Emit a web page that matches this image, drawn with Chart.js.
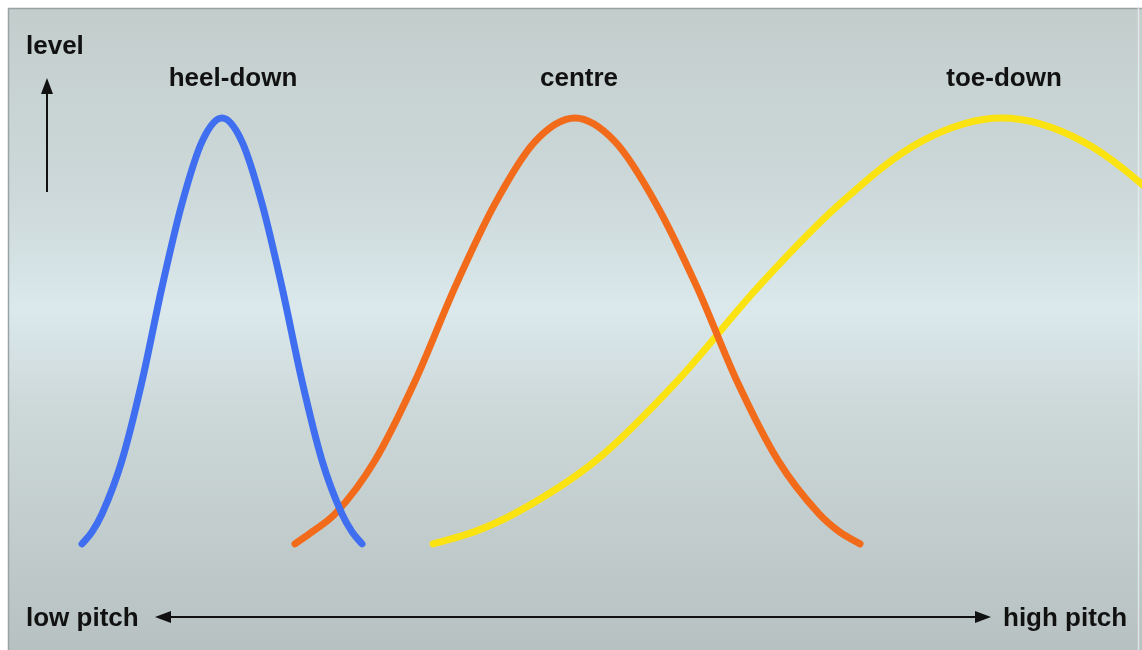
<!DOCTYPE html>
<html>
<head>
<meta charset="utf-8">
<script src="https://cdn.jsdelivr.net/npm/chart.js@4/dist/chart.umd.min.js"></script>
<style>
html,body{margin:0;padding:0;background:#ffffff;}
#wrap{width:1142px;height:650px;position:relative;}
</style>
</head>
<body>
<div id="wrap"><canvas id="pitchChart" width="1142" height="650"></canvas></div>
<script>

// pitch (0-100 across the panel) and level (0-100, peak = 100)
const heelPitch = [6.53,7.41,8.29,10.05,11.82,13.58,15.34,17.11,18.87,20.63,22.40,24.16,25.93,27.69,29.45,30.34,31.22]
const heelLevel = [0.5,3.3,7.5,20,38.5,60.5,80,94.5,100,94.5,80,60.5,38.5,20,7.5,3.3,0.5]

const centrePitch = [25.31,26.81,28.84,32.36,35.89,39.42,42.95,46.47,50.00,53.53,57.14,60.76,64.29,67.90,71.52,73.33,75.13]
const centreLevel = [0.5,3.3,7.5,20,38.5,60.5,80,94.5,100,94.5,80,60.5,38.5,20,7.5,3.3,0.5]

const toePitch = [37.48,41.09,44.62,51.85,58.99,66.14,73.37,80.51,87.65,94.80,101.94,109.08]
const toeLevel = [0.5,3.3,7.5,20,38.5,60.5,80,94.5,100,94.5,80,60.5]

const curveNames = ["heel-down","centre","toe-down"]
const curveColors = ["#3f6ef0","#f26b1a","#fbe312"]

function toPoints(xs,ys){
return xs.map((x,i)=>({x:x,y:ys[i]}))
}

// panel background, frame, labels and arrows
const panelPlugin = {
id:'panel',
beforeDraw(chart){
const c = chart.ctx
c.save()
c.fillStyle = "#ffffff"
c.fillRect(0,0,1142,650)
let g = c.createLinearGradient(0,8,0,650)
g.addColorStop(0,"#c3cdcc")
g.addColorStop(0.3,"#cdd9da")
g.addColorStop(0.47,"#dbe9ec")
g.addColorStop(0.62,"#cdd8d9")
g.addColorStop(1,"#b7c1c1")
c.fillStyle = g
c.fillRect(8,8,1134,642)
c.strokeStyle = "#9aa3a3"
c.lineWidth = 1.5
c.beginPath()
c.moveTo(8.5,650)
c.lineTo(8.5,8.5)
c.lineTo(1142,8.5)
c.stroke()
c.strokeStyle = "rgba(235,242,242,0.7)"
c.beginPath()
c.moveTo(1138.5,8)
c.lineTo(1138.5,650)
c.stroke()
c.restore()
},
afterDraw(chart){
const c = chart.ctx
c.save()
c.fillStyle = "#111111"
c.font = "bold 26px 'Liberation Sans', Arial, sans-serif"
c.textBaseline = "middle"

c.textAlign = "left"
c.fillText("level",26,47)
c.fillText("low pitch",26,619)
c.fillText("high pitch",1003,619)

c.textAlign = "center"
c.fillText(curveNames[0],233,79)
c.fillText(curveNames[1],579,79)
c.fillText(curveNames[2],1004,79)

// level arrow
c.strokeStyle = "#111111"
c.lineWidth = 2
c.beginPath()
c.moveTo(47,192)
c.lineTo(47,90)
c.stroke()
c.beginPath()
c.moveTo(47,78)
c.lineTo(41,94)
c.lineTo(53,94)
c.closePath()
c.fill()

// pitch arrow
c.beginPath()
c.moveTo(168,617)
c.lineTo(978,617)
c.stroke()
c.beginPath()
c.moveTo(155,617)
c.lineTo(171,611)
c.lineTo(171,623)
c.closePath()
c.fill()
c.beginPath()
c.moveTo(991,617)
c.lineTo(975,611)
c.lineTo(975,623)
c.closePath()
c.fill()
c.restore()
}
}

function makeSet(i,xs,ys){
return{
label:curveNames[i],
data:toPoints(xs,ys),
borderColor:curveColors[i],
borderWidth:7,
borderCapStyle:'round',
borderJoinStyle:'round',
pointRadius:0,
cubicInterpolationMode:'monotone',
fill:false
}
}

const ctx = document.getElementById("pitchChart")

new Chart(ctx,{
type:'line',
data:{
datasets:[
makeSet(0,heelPitch,heelLevel),
makeSet(1,centrePitch,centreLevel),
makeSet(2,toePitch,toeLevel)
]
},
options:{
responsive:false,
animation:false,
layout:{padding:0},
plugins:{
legend:{display:false},
tooltip:{enabled:false}
},
scales:{
x:{type:'linear',min:-0.705,max:100,display:false},
y:{min:-24.3,max:127.6,display:false}
}
},
plugins:[panelPlugin]
})

</script>
</body>
</html>
